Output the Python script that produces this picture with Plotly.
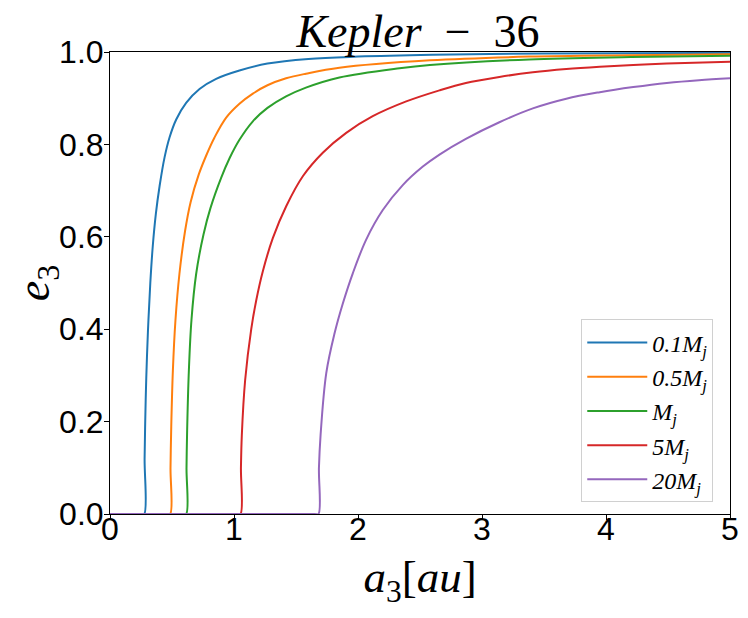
import plotly.graph_objects as go

# Kepler-36: e3 vs a3 for different third-body masses
labels = ["0.1M", "0.5M", "M", "5M", "20M"]
colors = ["#1f77b4", "#ff7f0e", "#2ca02c", "#d62728", "#9467bd"]

a_01 = [0, 0.25, 0.276, 0.279, 0.284, 0.290, 0.298, 0.310, 0.325, 0.345, 0.370, 0.400,
        0.440, 0.480, 0.534, 0.614, 0.722, 0.856, 1.044, 1.27, 1.60, 2.0, 2.6, 3.5, 5.0]
e_01 = [0, 0, 0, 0.12, 0.20, 0.27, 0.34, 0.42, 0.50, 0.58, 0.65, 0.71,
        0.772, 0.815, 0.854, 0.890, 0.920, 0.942, 0.960, 0.975, 0.985, 0.990, 0.994, 0.997, 0.998]

a_05 = [0, 0.455, 0.485, 0.488, 0.494, 0.507, 0.528, 0.560, 0.605, 0.650, 0.716, 0.776,
        0.843, 0.937, 1.044, 1.152, 1.27, 1.42, 1.58, 1.85, 2.58, 3.38, 4.2, 5.0]
e_05 = [0, 0, 0, 0.10, 0.19, 0.31, 0.42, 0.52, 0.612, 0.675, 0.735, 0.776,
        0.815, 0.858, 0.888, 0.910, 0.928, 0.943, 0.953, 0.966, 0.982, 0.990, 0.993, 0.995]

a_1 = [0, 0.584, 0.614, 0.617, 0.622, 0.636, 0.657, 0.695, 0.754, 0.810, 0.897, 0.964,
       1.044, 1.152, 1.27, 1.42, 1.58, 1.85, 2.335, 2.58, 3.38, 4.2, 5.0]
e_1 = [0, 0, 0, 0.10, 0.18, 0.31, 0.42, 0.52, 0.605, 0.662, 0.728, 0.770,
       0.810, 0.850, 0.879, 0.904, 0.923, 0.945, 0.965, 0.972, 0.984, 0.989, 0.992]

a_5 = [0, 1.022, 1.052, 1.056, 1.063, 1.090, 1.139, 1.179, 1.232, 1.313, 1.421, 1.555,
       1.716, 1.905, 2.119, 2.389, 2.657, 2.87, 3.14, 3.41, 3.68, 3.95, 4.22, 4.49, 5.0]
e_5 = [0, 0, 0, 0.10, 0.17, 0.29, 0.40, 0.462, 0.525, 0.597, 0.666, 0.731,
       0.782, 0.825, 0.861, 0.893, 0.917, 0.933, 0.946, 0.956, 0.963, 0.968, 0.972, 0.975, 0.979]

a_20 = [0, 1.651, 1.681, 1.685, 1.698, 1.744, 1.810, 1.877, 1.958, 2.066, 2.20, 2.361,
        2.523, 2.657, 2.87, 3.14, 3.41, 3.68, 3.95, 4.22, 4.49, 4.75, 5.0]
e_20 = [0, 0, 0, 0.10, 0.17, 0.305, 0.39, 0.455, 0.521, 0.594, 0.658, 0.712,
        0.752, 0.778, 0.812, 0.848, 0.878, 0.899, 0.913, 0.924, 0.933, 0.939, 0.943]

x_ticks = [0, 1, 2, 3, 4, 5]
y_ticks = [0.0, 0.2, 0.4, 0.6, 0.8, 1.0]

series = [(a_01, e_01), (a_05, e_05), (a_1, e_1), (a_5, e_5), (a_20, e_20)]

fig = go.Figure()
for i, ((xs, ys), lab, col) in enumerate(zip(series, labels, colors)):
    fig.add_trace(go.Scatter(
        x=xs, y=ys, mode="lines",
        line=dict(color=col, width=2, shape="spline", smoothing=1.0),
        name="<i>" + lab + "</i><sub><i>j</i></sub>",
        legendgroup=str(i),
    ))

axis_common = dict(
    showgrid=False, zeroline=False, showline=True, mirror=True,
    linecolor="black", linewidth=1, ticks="outside", ticklen=5,
    tickwidth=1, tickcolor="black", automargin=False,
    tickfont=dict(family="Liberation Sans", size=32, color="black"),
)

# the page body adds an 8px offset, so the figure is 740x610 inside a 748x618 window
fig.update_layout(
    width=740, height=610,
    margin=dict(l=102, r=18, t=44, b=104),
    paper_bgcolor="white", plot_bgcolor="white",
    title=dict(
        text="<i>Kepler</i>  −  36",
        x=410 / 740, xanchor="center",
        y=1 - 39 / 610, yanchor="bottom",
        font=dict(family="Liberation Serif", size=46, color="black"),
    ),
    xaxis=dict(
        range=[0, 5], tickvals=x_ticks, ticktext=[str(v) for v in x_ticks],
        ticklabelstandoff=-18,
        title=dict(text="<i>a</i><sub>3</sub>[<i>au</i>]",
                   font=dict(family="Liberation Serif", size=45, color="black"),
                   standoff=14),
        **axis_common,
    ),
    yaxis=dict(
        range=[0, 1], tickvals=y_ticks, ticktext=["%.1f" % v for v in y_ticks],
        ticklabelstandoff=-6,
        title=dict(text="<i>e</i><sub>3</sub>",
                   font=dict(family="Liberation Serif", size=46, color="black"),
                   standoff=30),
        **axis_common,
    ),
    showlegend=True,
    legend=dict(
        x=0.973, xanchor="right", y=0.025, yanchor="bottom",
        bgcolor="rgba(255,255,255,0.8)", bordercolor="#d0d0d0", borderwidth=1,
        font=dict(family="Liberation Serif", size=24, color="black"),
        tracegroupgap=0, traceorder="grouped", itemwidth=60,
    ),
)

fig.write_html("out.html")
